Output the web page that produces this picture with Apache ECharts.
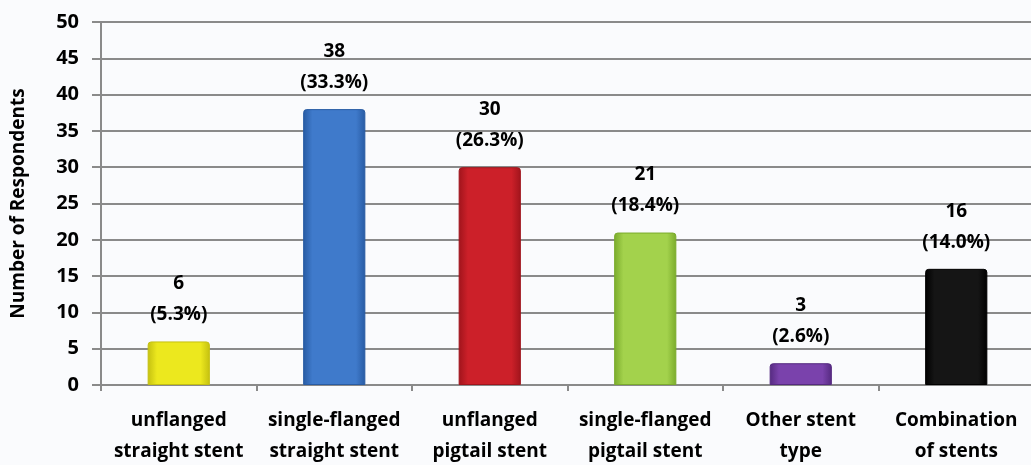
<!DOCTYPE html>
<html><head><meta charset="utf-8">
<script src="https://cdn.jsdelivr.net/npm/echarts@6/dist/echarts.min.js"></script>
<style>html,body{margin:0;padding:0;background:#fafbfd}#c{width:1031px;height:465px}</style>
</head><body><div id="c"></div>
<script>
const categories = ["unflanged\nstraight stent","single-flanged\nstraight stent","unflanged\npigtail stent","single-flanged\npigtail stent","Other stent\ntype","Combination\nof stents"];
const counts = [6, 38, 30, 21, 3, 16];
const percents = ["5.3%","33.3%","26.3%","18.4%","2.6%","14.0%"];
const yTicks = [0,5,10,15,20,25,30,35,40,45,50];
const barColors = [
  ["#c4c010","#ece81e","#c4c010"],
  ["#285ba3","#3f7acb","#285ba3"],
  ["#a0141c","#cc2029","#a0141c"],
  ["#7aab2c","#a3d24c","#7aab2c"],
  ["#552a80","#7a42ac","#552a80"],
  ["#000000","#151515","#000000"]
];
const FONT = "Open Sans";
const chart = echarts.init(document.getElementById('c'));
chart.setOption({
  backgroundColor: '#fafbfd',
  animation: false,
  grid: {left: 101, right: -3, top: 22, bottom: 80, outerBoundsMode: 'none', containLabel: false},
  xAxis: {
    type: 'category', data: categories,
    axisLine: {lineStyle: {color: '#8a8a8a', width: 2}},
    axisTick: {show: true, length: 6, lineStyle: {color: '#8a8a8a', width: 2}},
    axisLabel: {color: '#000', fontFamily: FONT, fontWeight: 'bold', fontSize: 19, lineHeight: 31, margin: 20, interval: 0}
  },
  yAxis: {
    type: 'value', min: yTicks[0], max: yTicks[yTicks.length-1], interval: 5,
    name: 'Number of Respondents', nameLocation: 'middle', nameGap: 73, nameRotate: 90,
    nameTextStyle: {color: '#000', fontFamily: FONT, fontWeight: 'bold', fontSize: 19},
    axisLine: {show: true, lineStyle: {color: '#8a8a8a', width: 2}},
    axisTick: {show: true, length: 9, lineStyle: {color: '#8a8a8a', width: 2}},
    splitLine: {lineStyle: {color: '#8a8a8a', width: 2}},
    axisLabel: {color: '#000', fontFamily: FONT, fontWeight: 'bold', fontSize: 20, margin: 22}
  },
  series: [{
    type: 'bar', barWidth: '40%',
    data: counts.map((v, i) => ({
      value: v,
      itemStyle: {
        color: new echarts.graphic.LinearGradient(0,0,1,0,[
          {offset:0,color:barColors[i][0]},{offset:0.15,color:barColors[i][1]},
          {offset:0.85,color:barColors[i][1]},{offset:1,color:barColors[i][2]}]),
        borderColor: barColors[i][0], borderWidth: 1, borderRadius: [3,3,0,0]
      },
      label: {
        show: true, position: 'top', distance: 11,
        formatter: () => v + "\n(" + percents[i] + ")",
        color: '#000', fontFamily: FONT, fontWeight: 'bold', fontSize: 19, lineHeight: 31
      }
    }))
  }]
});
</script></body></html>
